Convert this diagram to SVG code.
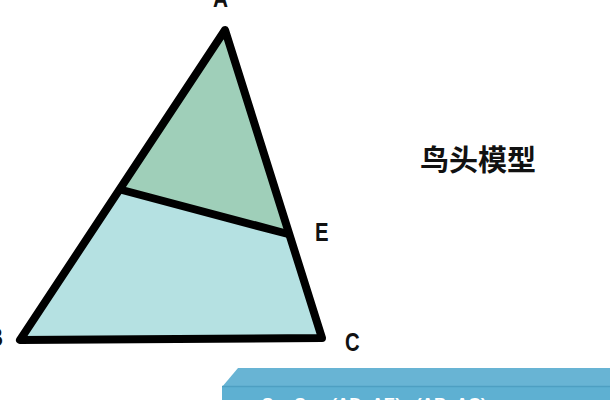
<svg xmlns="http://www.w3.org/2000/svg" width="610" height="400" viewBox="0 0 610 400">
<style>
.lbl{font-family:"Liberation Sans","DejaVu Sans",sans-serif;font-weight:bold;font-size:26px;fill:#111}
.edge{fill:none;stroke:#000;stroke-width:8;stroke-linejoin:round;stroke-linecap:round}
</style>
<rect width="610" height="400" fill="#fff"/>
<g id="regions">
<polygon id="top-region" points="225,30 122,190 288,234" fill="#9fcfb9"/>
<polygon id="bottom-region" points="122,190 288,234 322,338 20,340" fill="#b5e1e2"/>
</g>
<g id="connectors">
<polygon class="edge" points="225,30 20,340 322,338"/>
<line class="edge" x1="122" y1="190" x2="288" y2="234"/>
</g>
<g id="labels">
<text class="lbl" transform="translate(213,7) scale(0.8,1)">A</text>
<text class="lbl" transform="translate(-12,346) scale(0.8,1)">B</text>
<text class="lbl" transform="translate(345,351) scale(0.78,1)">C</text>
<text class="lbl" transform="translate(315,241) scale(0.78,1)">E</text>
</g>
<g id="title">
<text x="478" y="171" text-anchor="middle" font-family="'Noto Sans CJK SC',sans-serif" font-weight="bold" font-size="29" fill="#111">鸟头模型</text>
</g>
<g id="formula-box">
<polygon points="222,387 238,368 610,368 610,387" fill="#68b4d4"/>
<rect x="222" y="386" width="388" height="14" fill="#5eb0d2"/>
<line x1="222" y1="386.5" x2="610" y2="386.5" stroke="#4e9fc2" stroke-width="1.5"/>
<text x="262" y="410" font-family="'Liberation Sans',sans-serif" font-weight="bold" font-size="17" fill="#fff">S<tspan font-size="11" dy="3">1</tspan><tspan dy="-3"> : S</tspan><tspan font-size="11" dy="3">2</tspan><tspan dy="-3"> = (AD×AE) : (AB×AC)</tspan></text>
</g>
</svg>
